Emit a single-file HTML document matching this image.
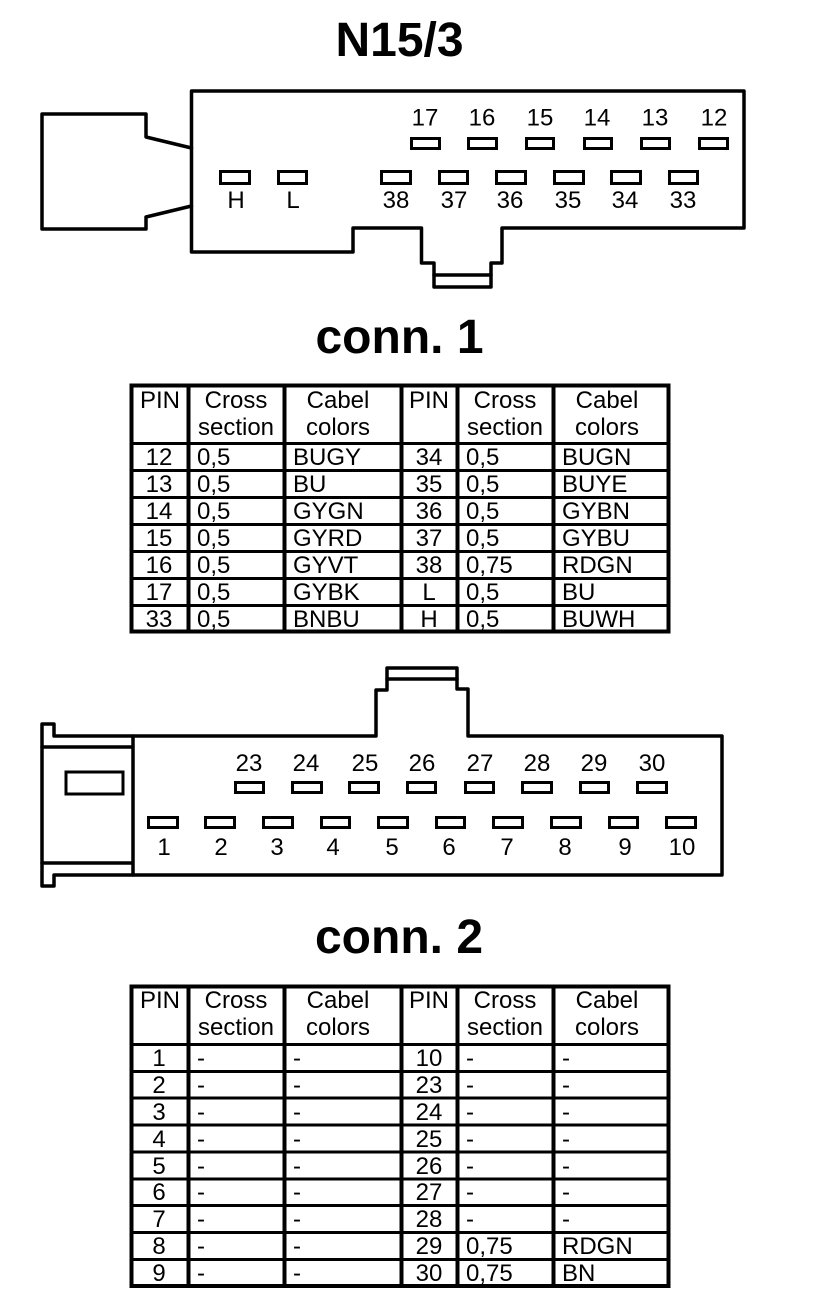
<!DOCTYPE html>
<html>
<head>
<meta charset="utf-8">
<title>N15/3</title>
<style>
html,body{margin:0;padding:0;background:#fff;width:816px;height:1310px;overflow:hidden}
svg{display:block}
text{font-family:"Liberation Sans",sans-serif;fill:#000}
.t{font-size:48px;font-weight:bold;text-anchor:middle}
.l{font-size:24px;text-anchor:middle}
.c{font-size:24px;text-anchor:middle}
.v{font-size:24px}
.s{fill:none;stroke:#000;stroke-width:3.5;stroke-linejoin:round;stroke-linecap:round}
.p{fill:#fff;stroke:#000;stroke-width:3}
.g{stroke:#000;fill:none}
</style>
</head>
<body>
<svg width="816" height="1310" viewBox="0 0 816 1310" xmlns="http://www.w3.org/2000/svg">
<rect width="816" height="1310" fill="#fff"/>

<text class="t" x="399.500" y="56">N15/3</text>
<text class="t" x="399.500" y="353">conn. 1</text>
<text class="t" x="399" y="953">conn. 2</text>

<!-- connector 1 -->
<path class="s" d="M191.500 148 L146 137 V114 H42 V229 H146 V217 L191.500 206"/>
<path class="s" d="M191.500 91 H744 V228 H502 V263 H491 V287 H434 V263 H421.500 V228 H353 V252 H191.500 Z"/>
<path class="s" d="M434 275 H491"/>
<g class="p">
<rect x="411.500" y="138.500" width="28" height="10"/>
<rect x="468.500" y="138.500" width="28" height="10"/>
<rect x="526.500" y="138.500" width="27" height="10"/>
<rect x="584.500" y="138.500" width="27" height="10"/>
<rect x="641.500" y="138.500" width="28" height="10"/>
<rect x="699.500" y="138.500" width="28" height="10"/>
<rect x="220.500" y="171.500" width="29" height="12"/>
<rect x="278.500" y="171.500" width="28" height="12"/>
<rect x="381.500" y="171.500" width="29" height="12"/>
<rect x="439.500" y="171.500" width="28" height="12"/>
<rect x="496.500" y="171.500" width="29" height="12"/>
<rect x="554.500" y="171.500" width="29" height="12"/>
<rect x="611.500" y="171.500" width="29" height="12"/>
<rect x="669.500" y="171.500" width="28" height="12"/>
</g>
<text class="l" x="425" y="125.500">17</text>
<text class="l" x="482" y="125.500">16</text>
<text class="l" x="540" y="125.500">15</text>
<text class="l" x="597" y="125.500">14</text>
<text class="l" x="655" y="125.500">13</text>
<text class="l" x="714" y="125.500">12</text>
<text class="l" x="236" y="208">H</text>
<text class="l" x="293" y="208">L</text>
<text class="l" x="396" y="208">38</text>
<text class="l" x="454" y="208">37</text>
<text class="l" x="510" y="208">36</text>
<text class="l" x="568" y="208">35</text>
<text class="l" x="625" y="208">34</text>
<text class="l" x="683" y="208">33</text>

<!-- table 1 -->
<rect class="g" x="131.500" y="385.500" width="537" height="246" stroke-width="4"/>
<path class="g" stroke-width="4" d="M188.500 385V632M284.500 385V632M401.500 385V632M457.500 385V632M553.500 385V632"/>
<path class="g" stroke-width="3" d="M130 443.500H669M130 470.500H669M130 497.500H669M130 524.500H669M130 551.500H669M130 578.500H669M130 605.500H669"/>
<text class="c" x="160" y="408">PIN</text>
<text class="c" x="236" y="408">Cross</text>
<text class="c" x="236" y="435">section</text>
<text class="c" x="338" y="408">Cabel</text>
<text class="c" x="338" y="435">colors</text>
<text class="c" x="429" y="408">PIN</text>
<text class="c" x="505" y="408">Cross</text>
<text class="c" x="505" y="435">section</text>
<text class="c" x="607" y="408">Cabel</text>
<text class="c" x="607" y="435">colors</text>

<text class="c" x="159" y="465">12</text><text class="v" x="197" y="465">0,5</text><text class="v" x="293" y="465">BUGY</text><text class="c" x="429" y="465">34</text><text class="v" x="466" y="465">0,5</text><text class="v" x="562" y="465">BUGN</text>
<text class="c" x="159" y="492">13</text><text class="v" x="197" y="492">0,5</text><text class="v" x="293" y="492">BU</text><text class="c" x="429" y="492">35</text><text class="v" x="466" y="492">0,5</text><text class="v" x="562" y="492">BUYE</text>
<text class="c" x="159" y="519">14</text><text class="v" x="197" y="519">0,5</text><text class="v" x="293" y="519">GYGN</text><text class="c" x="429" y="519">36</text><text class="v" x="466" y="519">0,5</text><text class="v" x="562" y="519">GYBN</text>
<text class="c" x="159" y="546">15</text><text class="v" x="197" y="546">0,5</text><text class="v" x="293" y="546">GYRD</text><text class="c" x="429" y="546">37</text><text class="v" x="466" y="546">0,5</text><text class="v" x="562" y="546">GYBU</text>
<text class="c" x="159" y="573">16</text><text class="v" x="197" y="573">0,5</text><text class="v" x="293" y="573">GYVT</text><text class="c" x="429" y="573">38</text><text class="v" x="466" y="573">0,75</text><text class="v" x="562" y="573">RDGN</text>
<text class="c" x="159" y="600">17</text><text class="v" x="197" y="600">0,5</text><text class="v" x="293" y="600">GYBK</text><text class="c" x="429" y="600">L</text><text class="v" x="466" y="600">0,5</text><text class="v" x="562" y="600">BU</text>
<text class="c" x="159" y="627">33</text><text class="v" x="197" y="627">0,5</text><text class="v" x="293" y="627">BNBU</text><text class="c" x="429" y="627">H</text><text class="v" x="466" y="627">0,5</text><text class="v" x="562" y="627">BUWH</text>

<!-- connector 2 -->
<path class="s" d="M42 724 H54 V736 H376 V690 H387 V668 H457 V689 H468 V736 H722 V875 H54 V886 H42 Z"/>
<path class="s" d="M387 679 H457"/>
<path class="s" d="M133 736 V875 M42 747 H133 M42 863 H133"/>
<rect class="p" x="66" y="772" width="57" height="22"/>
<g class="p">
<rect x="235.500" y="782.500" width="28" height="10"/>
<rect x="292.500" y="782.500" width="29" height="10"/>
<rect x="349.500" y="782.500" width="29" height="10"/>
<rect x="407.500" y="782.500" width="28" height="10"/>
<rect x="465.500" y="782.500" width="28" height="10"/>
<rect x="522.500" y="782.500" width="29" height="10"/>
<rect x="580.500" y="782.500" width="28" height="10"/>
<rect x="637.500" y="782.500" width="29" height="10"/>
<rect x="148.500" y="817.500" width="29" height="10"/>
<rect x="205.500" y="817.500" width="29" height="10"/>
<rect x="263.500" y="817.500" width="29" height="10"/>
<rect x="321.500" y="817.500" width="28" height="10"/>
<rect x="378.500" y="817.500" width="29" height="10"/>
<rect x="436.500" y="817.500" width="28" height="10"/>
<rect x="493.500" y="817.500" width="29" height="10"/>
<rect x="551.500" y="817.500" width="29" height="10"/>
<rect x="609.500" y="817.500" width="28" height="10"/>
<rect x="666.500" y="817.500" width="29" height="10"/>
</g>
<text class="l" x="249" y="771">23</text>
<text class="l" x="306" y="771">24</text>
<text class="l" x="365" y="771">25</text>
<text class="l" x="422" y="771">26</text>
<text class="l" x="480" y="771">27</text>
<text class="l" x="537" y="771">28</text>
<text class="l" x="594" y="771">29</text>
<text class="l" x="652" y="771">30</text>
<text class="l" x="164" y="855">1</text>
<text class="l" x="221" y="855">2</text>
<text class="l" x="277" y="855">3</text>
<text class="l" x="333" y="855">4</text>
<text class="l" x="392" y="855">5</text>
<text class="l" x="449" y="855">6</text>
<text class="l" x="507" y="855">7</text>
<text class="l" x="565" y="855">8</text>
<text class="l" x="625" y="855">9</text>
<text class="l" x="682" y="855">10</text>

<!-- table 2 -->
<rect class="g" x="131.500" y="986.500" width="537" height="299.500" stroke-width="4"/>
<path class="g" stroke-width="4" d="M188.500 985V1287M284.500 985V1287M401.500 985V1287M457.500 985V1287M553.500 985V1287"/>
<path class="g" stroke-width="3" d="M130 1044.500H669M130 1071.500H669M130 1098H669M130 1125H669M130 1152H669M130 1179H669M130 1205.500H669M130 1232.500H669M130 1259.500H669"/>
<text class="c" x="160" y="1008">PIN</text>
<text class="c" x="236" y="1008">Cross</text>
<text class="c" x="236" y="1035">section</text>
<text class="c" x="338" y="1008">Cabel</text>
<text class="c" x="338" y="1035">colors</text>
<text class="c" x="429" y="1008">PIN</text>
<text class="c" x="505" y="1008">Cross</text>
<text class="c" x="505" y="1035">section</text>
<text class="c" x="607" y="1008">Cabel</text>
<text class="c" x="607" y="1035">colors</text>

<text class="c" x="159" y="1066">1</text><text class="v" x="197" y="1066">-</text><text class="v" x="293" y="1066">-</text><text class="c" x="429" y="1066">10</text><text class="v" x="466" y="1066">-</text><text class="v" x="562" y="1066">-</text>
<text class="c" x="159" y="1093">2</text><text class="v" x="197" y="1093">-</text><text class="v" x="293" y="1093">-</text><text class="c" x="429" y="1093">23</text><text class="v" x="466" y="1093">-</text><text class="v" x="562" y="1093">-</text>
<text class="c" x="159" y="1120">3</text><text class="v" x="197" y="1120">-</text><text class="v" x="293" y="1120">-</text><text class="c" x="429" y="1120">24</text><text class="v" x="466" y="1120">-</text><text class="v" x="562" y="1120">-</text>
<text class="c" x="159" y="1147">4</text><text class="v" x="197" y="1147">-</text><text class="v" x="293" y="1147">-</text><text class="c" x="429" y="1147">25</text><text class="v" x="466" y="1147">-</text><text class="v" x="562" y="1147">-</text>
<text class="c" x="159" y="1174">5</text><text class="v" x="197" y="1174">-</text><text class="v" x="293" y="1174">-</text><text class="c" x="429" y="1174">26</text><text class="v" x="466" y="1174">-</text><text class="v" x="562" y="1174">-</text>
<text class="c" x="159" y="1200">6</text><text class="v" x="197" y="1200">-</text><text class="v" x="293" y="1200">-</text><text class="c" x="429" y="1200">27</text><text class="v" x="466" y="1200">-</text><text class="v" x="562" y="1200">-</text>
<text class="c" x="159" y="1227">7</text><text class="v" x="197" y="1227">-</text><text class="v" x="293" y="1227">-</text><text class="c" x="429" y="1227">28</text><text class="v" x="466" y="1227">-</text><text class="v" x="562" y="1227">-</text>
<text class="c" x="159" y="1254">8</text><text class="v" x="197" y="1254">-</text><text class="v" x="293" y="1254">-</text><text class="c" x="429" y="1254">29</text><text class="v" x="466" y="1254">0,75</text><text class="v" x="562" y="1254">RDGN</text>
<text class="c" x="159" y="1281">9</text><text class="v" x="197" y="1281">-</text><text class="v" x="293" y="1281">-</text><text class="c" x="429" y="1281">30</text><text class="v" x="466" y="1281">0,75</text><text class="v" x="562" y="1281">BN</text>
</svg>
</body>
</html>
